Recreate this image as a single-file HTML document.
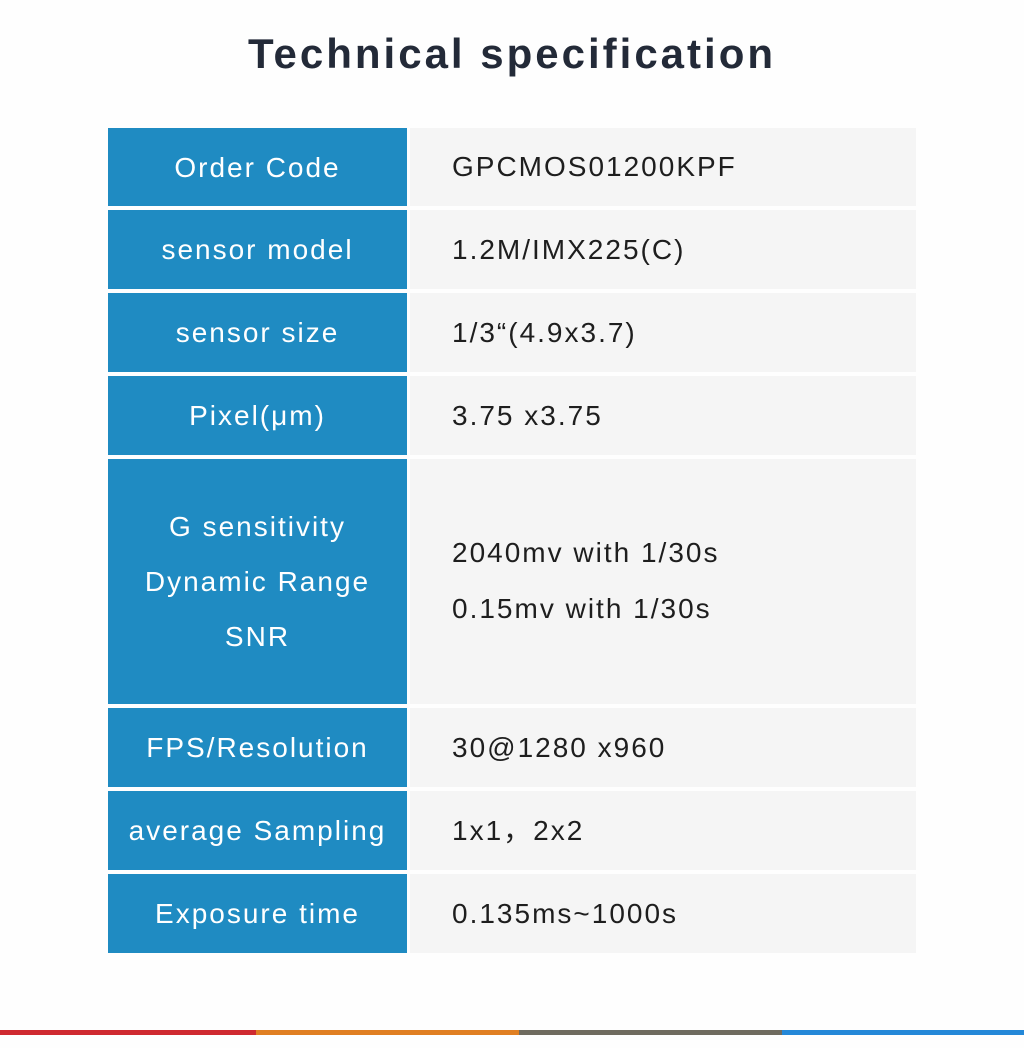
<!DOCTYPE html>
<html><head><meta charset="utf-8"><style>
html,body{margin:0;padding:0;background:#fefefe;}
body{width:1024px;height:1048px;position:relative;overflow:hidden;font-family:"Liberation Sans","Noto Sans CJK SC",sans-serif;}
.t{position:absolute;top:30px;left:0;width:1024px;text-align:center;font-size:42px;font-weight:bold;color:#232a38;letter-spacing:3px;}
.l,.r{position:absolute;display:flex;align-items:center;font-size:28px;}
.l{left:108px;width:299px;background:#1f8bc2;color:#fff;justify-content:center;text-align:center;line-height:55px;letter-spacing:2px;}
.r{left:410px;width:506px;background:#f5f5f5;color:#1e1e1e;padding-left:42px;box-sizing:border-box;line-height:56px;letter-spacing:2px;}
.bar{position:absolute;top:1030px;height:5px;}
</style></head><body>
<div class="t">Technical specification</div>

<div class="l" style="top:128px;height:78px">Order Code</div><div class="r" style="top:128px;height:78px">GPCMOS01200KPF</div>
<div class="l" style="top:210px;height:79px">sensor model</div><div class="r" style="top:210px;height:79px">1.2M/IMX225(C)</div>
<div class="l" style="top:293px;height:79px">sensor size</div><div class="r" style="top:293px;height:79px">1/3“(4.9x3.7)</div>
<div class="l" style="top:376px;height:79px">Pixel(μm)</div><div class="r" style="top:376px;height:79px">3.75 x3.75</div>
<div class="l" style="top:459px;height:245px"><div>G sensitivity<br>Dynamic Range<br>SNR</div></div><div class="r" style="top:459px;height:245px;align-items:flex-start;padding-top:66px">2040mv with 1/30s<br>0.15mv with 1/30s</div>
<div class="l" style="top:708px;height:79px">FPS/Resolution</div><div class="r" style="top:708px;height:79px">30@1280 x960</div>
<div class="l" style="top:791px;height:79px">average Sampling</div><div class="r" style="top:791px;height:79px">1x1，2x2</div>
<div class="l" style="top:874px;height:79px">Exposure time</div><div class="r" style="top:874px;height:79px">0.135ms~1000s</div>

<div class="bar" style="left:0;width:256px;background:#cf2a30"></div>
<div class="bar" style="left:256px;width:263px;background:#e07f22"></div>
<div class="bar" style="left:519px;width:263px;background:#6f6b5f"></div>
<div class="bar" style="left:782px;width:242px;background:#2488d8"></div>
</body></html>
